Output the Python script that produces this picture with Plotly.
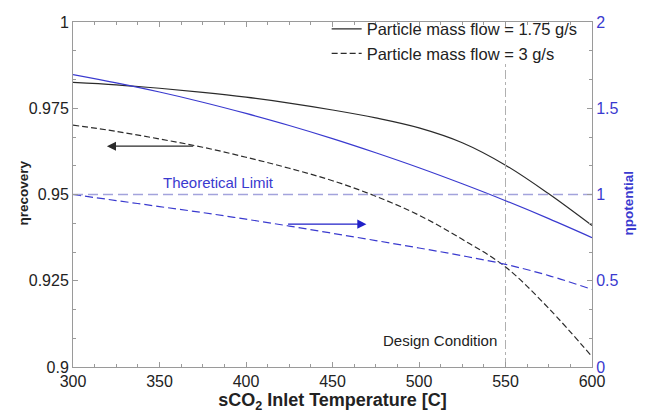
import plotly.graph_objects as go

# ---- data ----
temperature = [300, 325, 350, 375, 400, 425, 450, 475, 500, 525, 550, 575, 600]

recovery_175 = [0.9825, 0.9818, 0.9808, 0.9796, 0.9782, 0.9765, 0.9745, 0.9722,
                0.9693, 0.9650, 0.9585, 0.9502, 0.9410]
recovery_3 = [0.9701, 0.9683, 0.9661, 0.9637, 0.9608, 0.9576, 0.9540, 0.9495,
              0.9440, 0.9370, 0.9290, 0.9170, 0.9030]
potential_175 = [1.695, 1.647, 1.594, 1.535, 1.470, 1.400, 1.324, 1.242,
                 1.155, 1.062, 0.964, 0.860, 0.750]
potential_3 = [1.000, 0.965, 0.930, 0.895, 0.857, 0.817, 0.775, 0.733,
               0.690, 0.645, 0.595, 0.530, 0.450]

theoretical_limit = 1.0
design_temperature = 550
design_line_top = 0.988

x_ticks = [300, 350, 400, 450, 500, 550, 600]
y_left_ticks = [0.9, 0.925, 0.95, 0.975, 1]
y_left_labels = ["0.9", "0.925", "0.95", "0.975", "1"]
y_right_ticks = [0, 0.5, 1, 1.5, 2]
y_right_labels = ["0", "0.5", "1", "1.5", "2"]

BLACK = "#2b2b2b"
BLUE = "#3a3acf"
LAVENDER = "#a3a3dc"
FRAME = "#9a9a9a"
FONT = "Liberation Sans, Arial, sans-serif"

fig = go.Figure()

fig.add_trace(go.Scatter(x=temperature, y=recovery_175, mode="lines",
                         line=dict(color=BLACK, width=1.2, shape="spline"),
                         name="Particle mass flow = 1.75 g/s"))
fig.add_trace(go.Scatter(x=temperature, y=recovery_3, mode="lines",
                         line=dict(color=BLACK, width=1.2, dash="6px,3px", shape="spline"),
                         name="Particle mass flow = 3 g/s"))
fig.add_trace(go.Scatter(x=temperature, y=potential_175, mode="lines", yaxis="y2",
                         line=dict(color=BLUE, width=1.2, shape="spline"),
                         showlegend=False))
fig.add_trace(go.Scatter(x=temperature, y=potential_3, mode="lines", yaxis="y2",
                         line=dict(color=BLUE, width=1.2, dash="8px,4px", shape="spline"),
                         showlegend=False))
# theoretical limit line
fig.add_trace(go.Scatter(x=[temperature[0], temperature[-1]],
                         y=[theoretical_limit, theoretical_limit], mode="lines", yaxis="y2",
                         line=dict(color=LAVENDER, width=1.5, dash="10px,5px"),
                         showlegend=False, hoverinfo="skip"))
# design condition line
fig.add_trace(go.Scatter(x=[design_temperature, design_temperature],
                         y=[0.9, design_line_top], mode="lines",
                         line=dict(color="#b0b0b0", width=1, dash="dashdot"),
                         showlegend=False, hoverinfo="skip"))

# arrows
fig.add_annotation(x=319.6, y=0.964, ax=371.5, ay=0.964, xref="x", yref="y",
                   axref="x", ayref="y", text=" ", showarrow=True,
                   arrowhead=2, arrowsize=1.4, arrowwidth=1.3, arrowcolor=BLACK)
fig.add_annotation(x=469.6, y=0.828, ax=422.3, ay=0.828, xref="x", yref="y2",
                   axref="x", ayref="y2", text=" ", showarrow=True,
                   arrowhead=2, arrowsize=1.4, arrowwidth=1.3, arrowcolor="#2020c8")

fig.add_annotation(x=384, y=1.07, xref="x", yref="y2", text="Theoretical Limit",
                   showarrow=False, font=dict(family=FONT, size=15, color=BLUE))
fig.add_annotation(x=546.5, y=0.9078, xref="x", yref="y", text="Design Condition",
                   showarrow=False, xanchor="right",
                   font=dict(family=FONT, size=15, color="#222222"))

# y-axis titles (placed like the reference, overlapping the tick-label column)
fig.add_annotation(x=24, y=192, xref="paper", yref="paper", text="<b>ηrecovery</b>",
                   textangle=-90, showarrow=False, xanchor="center", yanchor="middle",
                   font=dict(family=FONT, size=13.5, color="#222222"))
fig.add_annotation(x=628, y=202, xref="paper", yref="paper", text="<b>ηpotential</b>",
                   textangle=-90, showarrow=False, xanchor="center", yanchor="middle",
                   font=dict(family=FONT, size=13.5, color=BLUE))

axis_common = dict(showline=True, linecolor=FRAME, linewidth=1, ticks="inside",
                   tickcolor=FRAME, ticklen=5, showgrid=False, zeroline=False)

W, H = 649, 417
ML, MR, MT, MB = 73, 57, 19, 50
pw, ph = W - ML - MR, H - MT - MB

# convert pixel-placed title annotations into paper coordinates
for ann in fig.layout.annotations:
    if ann.xref == "paper":
        ann.x = (ann.x - ML) / pw
        ann.y = (H - MB - ann.y) / ph

fig.update_layout(
    width=W, height=H,
    margin=dict(l=ML, r=MR, t=MT, b=MB),
    paper_bgcolor="white", plot_bgcolor="white",
    font=dict(family=FONT, size=16, color="#222222"),
    xaxis=dict(range=[300, 600], tickvals=x_ticks, mirror="ticks",
               minor=dict(dtick=12.5, ticks="inside", ticklen=3, tickcolor=FRAME),
               title=dict(text="<b>sCO<sub>2</sub> Inlet Temperature [C]</b>",
                          font=dict(size=18), standoff=2),
               **axis_common),
    yaxis=dict(range=[0.9, 1.0], tickvals=y_left_ticks, ticktext=y_left_labels,
               minor=dict(dtick=0.025 / 3, ticks="inside", ticklen=3, tickcolor=FRAME),
               **axis_common),
    yaxis2=dict(range=[0, 2], overlaying="y", side="right",
                tickvals=y_right_ticks, ticktext=y_right_labels,
                tickfont=dict(color=BLUE),
                minor=dict(dtick=1 / 6, ticks="inside", ticklen=3, tickcolor=FRAME),
                **axis_common),
    legend=dict(x=0.982, y=1.03, xanchor="right", yanchor="top",
                bgcolor="rgba(0,0,0,0)",
                font=dict(family=FONT, size=16.5, color="#222222"),
                itemwidth=30, tracegroupgap=0),
    showlegend=True,
)

fig.write_html("out.html")
